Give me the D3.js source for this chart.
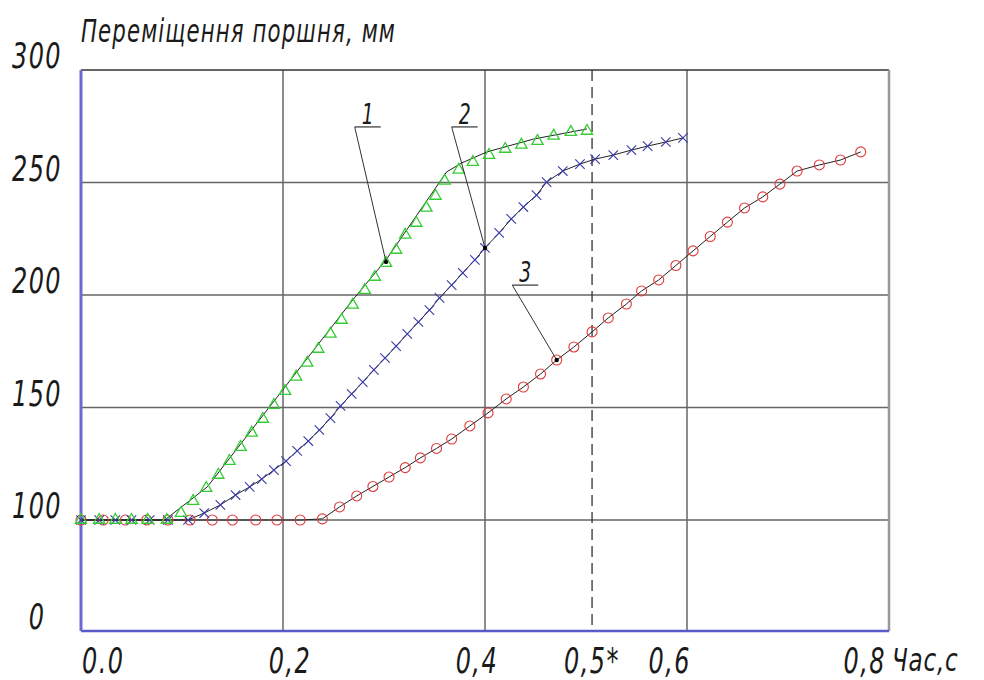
<!DOCTYPE html>
<html>
<head>
<meta charset="utf-8">
<script src="https://cdn.jsdelivr.net/npm/d3@7"></script>
<style>
  body { margin: 0; background: #fff; }
  text { font-family: "DejaVu Sans Condensed", "DejaVu Sans", sans-serif; font-style: italic; fill: #1a1a1a; }
</style>
</head>
<body>
<script>
// розмір полотна
const w = 984;
const h = 680;

// підписи осей
const yTickValues = [0, 100, 150, 200, 250, 300];
const yTickLabels = ["0", "100", "150", "200", "250", "300"];
const xGridValues = [0.2, 0.4, 0.6];
const xLabelText = ["0.0", "0,2", "0,4", "0,5*", "0,6", "0,8"];
const xLabelAt = [0.022, 0.207, 0.392, 0.506, 0.583, 0.776];
const markT = 0.506; // пунктир 0,5*

// крива 1 - лінія та трикутники
const line1 = [
  [0, 100], [0.083, 100], [0.098, 105.3], [0.111, 109.8], [0.125, 114.7],
  [0.269, 197.8], [0.302, 215.6], [0.362, 254.7], [0.377, 258.7],
  [0.402, 263.6], [0.448, 269.3], [0.501, 273.8]
];
const marks1 = [
  [0, 100], [0.018, 100], [0.034, 100], [0.05, 100], [0.066, 100], [0.085, 100],
  [0.099, 103.1], [0.111, 108.4], [0.124, 114.2], [0.136, 120], [0.147, 126.2],
  [0.158, 132.4], [0.169, 138.7], [0.18, 144.9], [0.191, 151.1], [0.202, 157.3],
  [0.213, 163.6], [0.224, 169.8], [0.235, 176], [0.247, 182.7], [0.258, 188.9],
  [0.269, 195.6], [0.281, 202.2], [0.291, 208], [0.302, 214.2], [0.312, 220],
  [0.321, 226.7], [0.332, 232], [0.342, 238.7], [0.351, 244], [0.36, 250.7],
  [0.374, 255.6], [0.388, 259.1], [0.404, 262.2], [0.42, 264.9], [0.436, 266.7],
  [0.452, 268.4], [0.468, 270.7], [0.485, 272.4], [0.501, 272.9]
];

// крива 2 - хрестики
const marks2 = [
  [0, 100], [0.018, 100], [0.034, 100], [0.05, 100], [0.068, 100], [0.086, 100],
  [0.106, 100], [0.122, 103.1], [0.138, 106.7], [0.153, 111.1], [0.167, 114.7],
  [0.179, 118.2], [0.191, 122.2], [0.203, 126.2], [0.214, 130.7], [0.225, 135.1],
  [0.236, 140], [0.247, 145.3], [0.257, 150.7], [0.268, 156], [0.279, 161.3],
  [0.29, 166.7], [0.301, 172], [0.312, 177.3], [0.323, 182.7], [0.334, 188],
  [0.345, 193.3], [0.355, 198.7], [0.367, 204.4], [0.378, 209.8], [0.39, 215.6],
  [0.4, 220.9], [0.414, 227.6], [0.426, 233.8], [0.438, 239.1], [0.451, 244.4],
  [0.461, 250.2], [0.477, 255.1], [0.494, 258.2], [0.509, 260.4], [0.527, 262.2],
  [0.545, 264.4], [0.561, 266.2], [0.579, 268], [0.596, 269.8]
];

// крива 3 - кружечки
const marks3 = [
  [0, 100], [0.022, 100], [0.044, 100], [0.065, 100], [0.086, 100], [0.108, 100],
  [0.13, 100], [0.15, 100], [0.173, 100], [0.194, 100], [0.217, 100], [0.239, 100.5],
  [0.256, 105.8], [0.273, 110.7], [0.289, 114.9], [0.305, 119.1], [0.321, 123.3],
  [0.336, 127.6], [0.352, 131.8], [0.367, 136], [0.385, 141.8], [0.403, 147.6],
  [0.421, 153.8], [0.438, 159.1], [0.455, 164.9], [0.471, 171.1], [0.488, 176.9],
  [0.506, 183.6], [0.522, 189.8], [0.54, 196], [0.555, 201.8], [0.572, 206.7],
  [0.589, 213.1], [0.606, 219.6], [0.623, 226], [0.64, 232.4], [0.657, 238.7],
  [0.675, 243.6], [0.692, 249.3], [0.709, 255.1], [0.731, 257.8], [0.752, 260],
  [0.772, 263.6]
];

// виноски: номер, точка на кривій, початок полички
const annLabels = ["1", "2", "3"];
const annTarget = [[0.302, 214.7], [0.4, 220.9], [0.471, 171.1]];
const annAnchor = [[0.271, 274.7], [0.367, 274.7], [0.427, 204.4]];

const svg = d3.select("body").append("svg").attr("width", w).attr("height", h);
svg.append("rect").attr("width", w).attr("height", h).attr("fill", "#fff");

const x = d3.scaleLinear().domain([0, 0.8]).range([81, 889]);
// вісь Y нерівномірна: 0 і 100 стоять на одному кроці сітки
const y = d3.scaleLinear().domain([0, 100, 300]).range([631, 520, 70]);

// вузький похилий текст як у кресленні
function squeeze(px, py, sx) {
  return "translate(" + px + "," + py + ") scale(" + sx + ",1)";
}

// сітка
svg.append("g")
  .selectAll("line")
  .data(yTickValues.filter(d => d > 0 && d < 300))
  .enter()
  .append("line")
  .attr("x1", x(0)).attr("x2", x(0.8))
  .attr("y1", d => y(d)).attr("y2", d => y(d))
  .attr("stroke", "#666").attr("stroke-width", 1.5);

svg.append("g")
  .selectAll("line")
  .data(xGridValues)
  .enter()
  .append("line")
  .attr("x1", d => x(d)).attr("x2", d => x(d))
  .attr("y1", y(300)).attr("y2", y(0))
  .attr("stroke", "#666").attr("stroke-width", 1.5);

svg.append("line")
  .attr("x1", x(markT)).attr("x2", x(markT))
  .attr("y1", y(300)).attr("y2", y(0))
  .attr("stroke", "#333").attr("stroke-width", 1.3)
  .attr("stroke-dasharray", "11,6");

// рамка
svg.append("line").attr("x1", x(0)).attr("x2", x(0.8)).attr("y1", y(300)).attr("y2", y(300))
  .attr("stroke", "#333").attr("stroke-width", 1.5);
svg.append("line").attr("x1", x(0.8)).attr("x2", x(0.8)).attr("y1", y(300)).attr("y2", y(0))
  .attr("stroke", "#999").attr("stroke-width", 2.5);
svg.append("line").attr("x1", x(0)).attr("x2", x(0.8)).attr("y1", y(0)).attr("y2", y(0))
  .attr("stroke", "#5a5ac8").attr("stroke-width", 2.5);
svg.append("line").attr("x1", x(0)).attr("x2", x(0)).attr("y1", y(300)).attr("y2", y(0))
  .attr("stroke", "#6a6ad0").attr("stroke-width", 3);

// лінії кривих
const lineGen = d3.line().x(d => x(d[0])).y(d => y(d[1]));
[line1, marks2, marks3].forEach(function (s) {
  svg.append("path").datum(s).attr("d", lineGen)
    .attr("fill", "none").attr("stroke", "#222").attr("stroke-width", 1);
});

// маркери
svg.append("g").selectAll("circle").data(marks3).enter().append("circle")
  .attr("cx", d => x(d[0])).attr("cy", d => y(d[1])).attr("r", 5)
  .attr("fill", "none").attr("stroke", "#e03a3a").attr("stroke-width", 1.1);

svg.append("g").selectAll("path").data(marks2).enter().append("path")
  .attr("d", d3.symbol(d3.symbolX, 60))
  .attr("transform", d => "translate(" + x(d[0]) + "," + y(d[1]) + ")")
  .attr("fill", "none").attr("stroke", "#3a3aa8").attr("stroke-width", 1.1);

svg.append("g").selectAll("path").data(marks1).enter().append("path")
  .attr("d", d3.symbol(d3.symbolTriangle, 55))
  .attr("transform", d => "translate(" + x(d[0]) + "," + y(d[1]) + ")")
  .attr("fill", "none").attr("stroke", "#33cc33").attr("stroke-width", 1.3);

// виноски
annLabels.forEach(function (lab, i) {
  const ax = x(annAnchor[i][0]), ay = y(annAnchor[i][1]);
  const tx = x(annTarget[i][0]), ty = y(annTarget[i][1]);
  svg.append("line").attr("x1", ax).attr("y1", ay).attr("x2", tx).attr("y2", ty)
    .attr("stroke", "#333").attr("stroke-width", 1);
  svg.append("line").attr("x1", ax).attr("y1", ay).attr("x2", ax + 26).attr("y2", ay)
    .attr("stroke", "#333").attr("stroke-width", 1.2);
  svg.append("circle").attr("cx", tx).attr("cy", ty).attr("r", 2.2).attr("fill", "#000");
  svg.append("text").attr("transform", squeeze(ax + 13, ay - 3, 0.75))
    .attr("text-anchor", "middle").attr("font-size", 28).text(lab);
});

// підписи осі Y
svg.append("g").selectAll("text").data(yTickValues).enter().append("text")
  .attr("transform", d => squeeze(37, y(d) - 2, 0.74))
  .attr("text-anchor", "middle").attr("font-size", 36).attr("letter-spacing", 2)
  .text((d, i) => yTickLabels[i]);

// підписи осі X
svg.append("g").selectAll("text").data(xLabelText).enter().append("text")
  .attr("transform", (d, i) => squeeze(x(xLabelAt[i]), 673, 0.74))
  .attr("text-anchor", "middle").attr("font-size", 36).attr("letter-spacing", 2)
  .text(d => d);

svg.append("text").attr("transform", squeeze(x(0.8) + 3, 671, 0.8))
  .attr("font-size", 32).attr("letter-spacing", 1).text("Час,с");

svg.append("text").attr("transform", squeeze(81, 42, 0.74))
  .attr("font-size", 32).attr("letter-spacing", 1.5).text("Переміщення поршня, мм");
</script>
</body>
</html>
